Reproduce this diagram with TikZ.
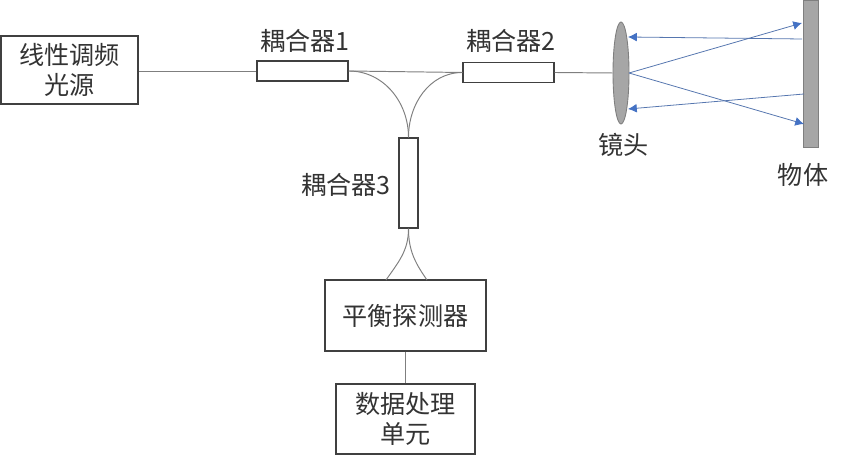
\documentclass[tikz,border=0pt]{standalone}
\usepackage{fontspec}
\setmainfont{Noto Sans CJK SC}
\usepackage{xcolor}
\usetikzlibrary{positioning,shapes,arrows.meta}

\definecolor{boxline}{HTML}{404040}
\definecolor{fibreline}{HTML}{7F7F7F}
\definecolor{rayblue}{HTML}{4472C4}
\definecolor{solidgray}{HTML}{A6A6A6}

\tikzset{
  every node/.style={inner sep=0pt,text=black!80,font=\fontsize{14.3}{17}\selectfont},
  unitbox/.style={draw=boxline,line width=0.8pt,fill=white,align=center},
  couplerbox/.style={unitbox,minimum width=1.82cm,minimum height=0.4cm},
  fibre/.style={draw=fibreline,line width=0.55pt},
  ray/.style={draw=rayblue!70!gray,line width=0.45pt,-{Latex[length=5pt,width=5pt,color=rayblue]}}
}

\begin{document}
\begin{tikzpicture}[scale=0.2]
\useasboundingbox (0,0) rectangle (84.3,-46.6);
% boxes
\node [unitbox,minimum width=2.74cm,minimum height=1.36cm] (source) at (6.95,-7) {线性调频\\光源};
\node [couplerbox] (couplerA) at (30.25,-7.1) {};
\node [couplerbox] (couplerB) at (50.85,-7.25) {};
\node [unitbox,minimum width=0.38cm,minimum height=1.8cm] (couplerC) at (40.85,-18.3) {};
\node [unitbox,minimum width=3.22cm,minimum height=1.42cm] (detector) at (40.55,-31.55) {平衡探测器};
\node [unitbox,minimum width=2.78cm,minimum height=1.4cm] (dataunit) at (40.55,-41.9) {数据处理\\单元};
% lens and object
\node [ellipse,draw=fibreline,fill=solidgray,line width=0.5pt,minimum width=0.32cm,minimum height=2.04cm] (lens) at (62.1,-7.3) {};
\node [rectangle,draw=fibreline,fill=solidgray,line width=0.5pt,minimum width=0.3cm,minimum height=2.93cm] (target) at (81.05,-7.4) {};
% labels
\node (labelA) at (30.5,-4.1) {耦合器1};
\node (labelB) at (51.1,-4.1) {耦合器2};
\node (labelC) at (34.6,-18.5) {耦合器3};
\node (labellens) at (62.35,-14.5) {镜头};
\node (labeltarget) at (80.3,-17.5) {物体};
% points for the rays and the detector inputs
\coordinate (lensout) at (62.9,-7.3);
\coordinate (hitA) at (80.2,-2.3);
\coordinate (hitB) at (80.4,-12.4);
\coordinate (backA) at (80.2,-3.9);
\coordinate (backB) at (80.4,-9.4);
\coordinate (lensinA) at (62.8,-3.7);
\coordinate (lensinB) at (62.8,-10.9);
\coordinate (inputA) at (38.6,-28);
\coordinate (inputB) at (42.7,-28);
% fibres
\draw [fibre] (source.east |- couplerA) -- (couplerA.west);
\draw [fibre] (couplerA.east) -- (couplerB.west);
\draw [fibre] (couplerB.east) -- (lens.west);
\draw [fibre] (couplerA.east) to [out=0,in=90] (couplerC.north);
\draw [fibre] (couplerB.west) to [out=180,in=90] (couplerC.north);
\draw [fibre] (couplerC.south) to [out=-90,in=55] (inputA);
\draw [fibre] (couplerC.south) to [out=-90,in=125] (inputB);
\draw [fibre] (detector.south) -- (dataunit.north);
% rays
\draw [ray] (lensout) -- (hitA);
\draw [ray] (lensout) -- (hitB);
\draw [ray] (backA) -- (lensinA);
\draw [ray] (backB) -- (lensinB);
\end{tikzpicture}
\end{document}
